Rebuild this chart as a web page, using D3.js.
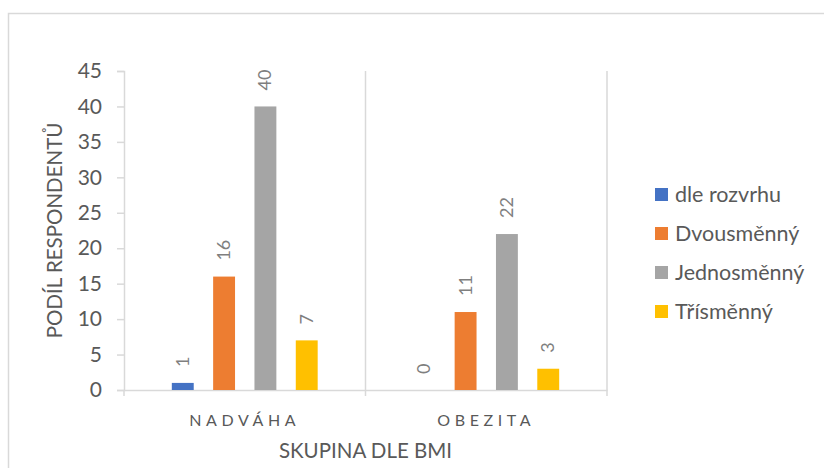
<!DOCTYPE html>
<html>
<head>
<meta charset="utf-8">
<script src="https://cdn.jsdelivr.net/npm/d3@7"></script>
<style>
  html, body { margin: 0; padding: 0; background: #fff; }
  svg text { font-family: Lato, "Open Sans", sans-serif; }
</style>
</head>
<body>
<svg id="chart" width="824" height="468"></svg>
<script>
// BMI groups and respondent counts per work-shift type
const categories = ["NADVÁHA", "OBEZITA"];
const seriesNames = ["dle rozvrhu", "Dvousměnný", "Jednosměnný", "Třísměnný"];
const seriesColors = ["#4472C4", "#ED7D31", "#A5A5A5", "#FFC000"];
const dleRozvrhu = [1, 0];
const dvousmenny = [16, 11];
const jednosmenny = [40, 22];
const trismenny = [7, 3];
const yTicks = [0, 5, 10, 15, 20, 25, 30, 35, 40, 45];

const seriesValues = [dleRozvrhu, dvousmenny, jednosmenny, trismenny];
const rows = categories.map((c, i) => ({
  category: c,
  values: seriesNames.map((s, j) => ({ series: s, value: seriesValues[j][i], color: seriesColors[j] }))
}));

const svg = d3.select("#chart");
const axisColor = "#d9d9d9";
const textColor = "#595959";

// outer chart frame
svg.append("rect")
  .attr("x", 8.5).attr("y", 13.5)
  .attr("width", 830).attr("height", 470)
  .attr("fill", "none").attr("stroke", axisColor).attr("stroke-width", 1.5);

const plot = { left: 124, right: 607, top: 71, bottom: 390 };

const y = d3.scaleLinear().domain([0, 45]).range([plot.bottom, plot.top]);
const x0 = d3.scaleBand().domain(categories).range([plot.left, plot.right]).padding(0);
const pad = x0.bandwidth() * 0.198;
const x1 = d3.scaleBand().domain(seriesNames).range([pad, x0.bandwidth() - pad]).paddingInner(0.47).paddingOuter(0);

// category separators
const bounds = [plot.left, ...categories.map(c => x0(c) + x0.bandwidth())];
svg.append("g").selectAll("line")
  .data(bounds.slice(1))
  .join("line")
  .attr("x1", d => d).attr("x2", d => d)
  .attr("y1", plot.top).attr("y2", plot.bottom)
  .attr("stroke", axisColor).attr("stroke-width", 1.5);

// y axis
const yAxis = svg.append("g")
  .attr("transform", `translate(${plot.left},0)`)
  .call(d3.axisLeft(y).tickValues(yTicks).tickSize(7).tickPadding(15));
yAxis.select(".domain").attr("stroke", axisColor).attr("stroke-width", 1.5);
yAxis.selectAll(".tick line").attr("stroke", axisColor).attr("stroke-width", 1.5);
yAxis.selectAll(".tick text").attr("fill", textColor).attr("font-size", 21);

// x axis
const xAxis = svg.append("g")
  .attr("transform", `translate(0,${plot.bottom})`)
  .call(d3.axisBottom(x0).tickSize(0).tickPadding(25));
xAxis.select(".domain").attr("stroke", axisColor).attr("stroke-width", 1.5);
xAxis.selectAll(".tick text")
  .attr("fill", textColor).attr("font-size", 16)
  .attr("letter-spacing", "4.6px");
svg.append("g").selectAll("line")
  .data(bounds)
  .join("line")
  .attr("x1", d => d).attr("x2", d => d)
  .attr("y1", plot.bottom).attr("y2", plot.bottom + 6)
  .attr("stroke", axisColor).attr("stroke-width", 1.5);

// bars
const groups = svg.append("g").selectAll("g")
  .data(rows)
  .join("g")
  .attr("transform", d => `translate(${x0(d.category)},0)`);

groups.selectAll("rect")
  .data(d => d.values)
  .join("rect")
  .attr("x", d => x1(d.series))
  .attr("y", d => y(d.value))
  .attr("width", x1.bandwidth())
  .attr("height", d => y(0) - y(d.value))
  .attr("fill", d => d.color);

// rotated value labels
groups.selectAll("text")
  .data(d => d.values)
  .join("text")
  .attr("transform", d => `translate(${x1(d.series) + x1.bandwidth() / 2 + 6},${y(d.value) - 16}) rotate(-90)`)
  .attr("fill", "#7f7f7f")
  .attr("font-size", 18)
  .text(d => d.value);

// axis titles
svg.append("text")
  .attr("transform", `translate(62,${(plot.top + plot.bottom) / 2}) rotate(-90)`)
  .attr("text-anchor", "middle")
  .attr("fill", textColor).attr("font-size", 20.5)
  .text("PODÍL RESPONDENTŮ");

svg.append("text")
  .attr("x", (plot.left + plot.right) / 2).attr("y", 458)
  .attr("text-anchor", "middle")
  .attr("fill", textColor).attr("font-size", 20.5)
  .text("SKUPINA DLE BMI");

// legend
const legend = svg.append("g").selectAll("g")
  .data(seriesNames)
  .join("g")
  .attr("transform", (d, i) => `translate(655,${188 + i * 39})`);
legend.append("rect")
  .attr("width", 13).attr("height", 13)
  .attr("fill", (d, i) => seriesColors[i]);
legend.append("text")
  .attr("x", 20).attr("y", 14)
  .attr("fill", textColor).attr("font-size", 21.5)
  .text(d => d);
</script>
</body>
</html>
